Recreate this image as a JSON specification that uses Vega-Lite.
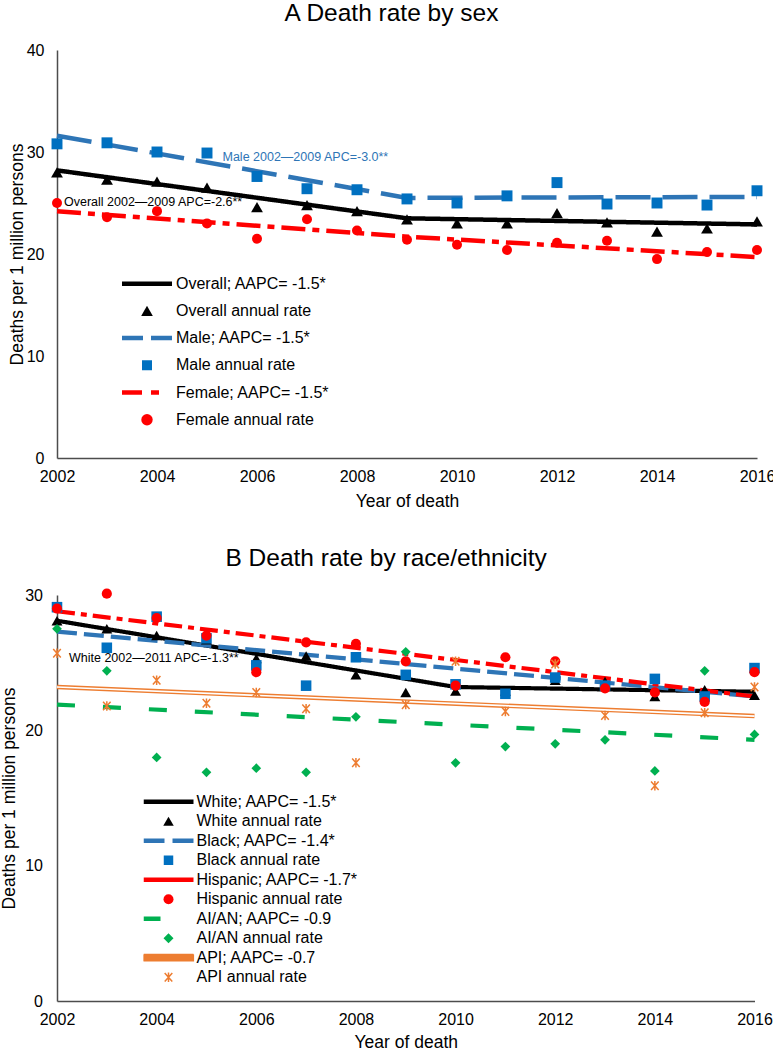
{
  "$schema": "https://vega.github.io/schema/vega-lite/v6.json",
  "background": "white",
  "padding": {"left": 0, "top": 1, "right": 0, "bottom": 0},
  "config": {
    "font": "Liberation Sans",
    "view": {"stroke": null},
    "axis": {"grid": false, "ticks": false, "domainColor": "#4d4d4d", "domainWidth": 1.5, "labelFont": "Liberation Sans", "labelFontSize": 16, "labelColor": "#000000", "titleFont": "Liberation Sans", "titleFontSize": 17.5, "titleFontWeight": "normal", "titleColor": "#000000", "labelOverlap": false},
    "title": {"font": "Liberation Sans", "fontSize": 24.5, "fontWeight": "normal", "color": "#000000", "anchor": "middle", "frame": "bounds", "offset": 15.5},
    "legend": {"labelFont": "Liberation Sans", "labelFontSize": 16, "labelColor": "#000000", "labelLimit": 400, "padding": 0, "symbolOffset": 0, "clipHeight": 18, "symbolSize": 2500}
  },
  "resolve": {
    "scale": {"x": "independent", "y": "independent", "color": "independent", "shape": "independent", "size": "independent", "strokeDash": "independent"},
    "legend": {"color": "independent", "shape": "independent", "size": "independent", "strokeDash": "independent"}
  },
  "datasets": {
    "sex": [
      {"year": 2002, "rate": 28.2, "series": "Overall; AAPC= -1.5*", "kind": "fit"},
      {"year": 2009, "rate": 23.5, "series": "Overall; AAPC= -1.5*", "kind": "fit"},
      {"year": 2016, "rate": 22.9, "series": "Overall; AAPC= -1.5*", "kind": "fit"},
      {"year": 2002, "rate": 31.6, "series": "Male; AAPC= -1.5*", "kind": "fit"},
      {"year": 2009, "rate": 25.5, "series": "Male; AAPC= -1.5*", "kind": "fit"},
      {"year": 2016, "rate": 25.6, "series": "Male; AAPC= -1.5*", "kind": "fit"},
      {"year": 2002, "rate": 24.2, "series": "Female; AAPC= -1.5*", "kind": "fit"},
      {"year": 2009, "rate": 21.7, "series": "Female; AAPC= -1.5*", "kind": "fit"},
      {"year": 2016, "rate": 19.7, "series": "Female; AAPC= -1.5*", "kind": "fit"},
      {"year": 2002, "rate": 28.0, "series": "Overall annual rate", "kind": "annual"},
      {"year": 2003, "rate": 27.3, "series": "Overall annual rate", "kind": "annual"},
      {"year": 2004, "rate": 27.1, "series": "Overall annual rate", "kind": "annual"},
      {"year": 2005, "rate": 26.5, "series": "Overall annual rate", "kind": "annual"},
      {"year": 2006, "rate": 24.6, "series": "Overall annual rate", "kind": "annual"},
      {"year": 2007, "rate": 24.8, "series": "Overall annual rate", "kind": "annual"},
      {"year": 2008, "rate": 24.2, "series": "Overall annual rate", "kind": "annual"},
      {"year": 2009, "rate": 23.4, "series": "Overall annual rate", "kind": "annual"},
      {"year": 2010, "rate": 23.0, "series": "Overall annual rate", "kind": "annual"},
      {"year": 2011, "rate": 23.0, "series": "Overall annual rate", "kind": "annual"},
      {"year": 2012, "rate": 24.0, "series": "Overall annual rate", "kind": "annual"},
      {"year": 2013, "rate": 23.1, "series": "Overall annual rate", "kind": "annual"},
      {"year": 2014, "rate": 22.2, "series": "Overall annual rate", "kind": "annual"},
      {"year": 2015, "rate": 22.5, "series": "Overall annual rate", "kind": "annual"},
      {"year": 2016, "rate": 23.2, "series": "Overall annual rate", "kind": "annual"},
      {"year": 2002, "rate": 30.8, "series": "Male annual rate", "kind": "annual"},
      {"year": 2003, "rate": 30.9, "series": "Male annual rate", "kind": "annual"},
      {"year": 2004, "rate": 30.0, "series": "Male annual rate", "kind": "annual"},
      {"year": 2005, "rate": 29.9, "series": "Male annual rate", "kind": "annual"},
      {"year": 2006, "rate": 27.6, "series": "Male annual rate", "kind": "annual"},
      {"year": 2007, "rate": 26.4, "series": "Male annual rate", "kind": "annual"},
      {"year": 2008, "rate": 26.3, "series": "Male annual rate", "kind": "annual"},
      {"year": 2009, "rate": 25.4, "series": "Male annual rate", "kind": "annual"},
      {"year": 2010, "rate": 25.0, "series": "Male annual rate", "kind": "annual"},
      {"year": 2011, "rate": 25.7, "series": "Male annual rate", "kind": "annual"},
      {"year": 2012, "rate": 27.0, "series": "Male annual rate", "kind": "annual"},
      {"year": 2013, "rate": 24.9, "series": "Male annual rate", "kind": "annual"},
      {"year": 2014, "rate": 25.0, "series": "Male annual rate", "kind": "annual"},
      {"year": 2015, "rate": 24.8, "series": "Male annual rate", "kind": "annual"},
      {"year": 2016, "rate": 26.2, "series": "Male annual rate", "kind": "annual"},
      {"year": 2002, "rate": 25.0, "series": "Female annual rate", "kind": "annual"},
      {"year": 2003, "rate": 23.6, "series": "Female annual rate", "kind": "annual"},
      {"year": 2004, "rate": 24.2, "series": "Female annual rate", "kind": "annual"},
      {"year": 2005, "rate": 23.0, "series": "Female annual rate", "kind": "annual"},
      {"year": 2006, "rate": 21.5, "series": "Female annual rate", "kind": "annual"},
      {"year": 2007, "rate": 23.4, "series": "Female annual rate", "kind": "annual"},
      {"year": 2008, "rate": 22.3, "series": "Female annual rate", "kind": "annual"},
      {"year": 2009, "rate": 21.4, "series": "Female annual rate", "kind": "annual"},
      {"year": 2010, "rate": 20.9, "series": "Female annual rate", "kind": "annual"},
      {"year": 2011, "rate": 20.4, "series": "Female annual rate", "kind": "annual"},
      {"year": 2012, "rate": 21.1, "series": "Female annual rate", "kind": "annual"},
      {"year": 2013, "rate": 21.3, "series": "Female annual rate", "kind": "annual"},
      {"year": 2014, "rate": 19.5, "series": "Female annual rate", "kind": "annual"},
      {"year": 2015, "rate": 20.2, "series": "Female annual rate", "kind": "annual"},
      {"year": 2016, "rate": 20.4, "series": "Female annual rate", "kind": "annual"}
    ],
    "race": [
      {"year": 2002, "rate": 28.1, "series": "White; AAPC= -1.5*", "kind": "fit"},
      {"year": 2010, "rate": 23.2, "series": "White; AAPC= -1.5*", "kind": "fit"},
      {"year": 2016, "rate": 22.85, "series": "White; AAPC= -1.5*", "kind": "fit"},
      {"year": 2002, "rate": 27.3, "series": "Black; AAPC= -1.4*", "kind": "fit"},
      {"year": 2016, "rate": 22.5, "series": "Black; AAPC= -1.4*", "kind": "fit"},
      {"year": 2002, "rate": 28.8, "series": "Hispanic; AAPC= -1.7*", "kind": "fit"},
      {"year": 2016, "rate": 22.5, "series": "Hispanic; AAPC= -1.7*", "kind": "fit"},
      {"year": 2002, "rate": 21.9, "series": "AI/AN; AAPC= -0.9", "kind": "fit"},
      {"year": 2016, "rate": 19.3, "series": "AI/AN; AAPC= -0.9", "kind": "fit"},
      {"year": 2002, "rate": 23.2, "series": "API; AAPC= -0.7", "kind": "api"},
      {"year": 2016, "rate": 21.05, "series": "API; AAPC= -0.7", "kind": "api"},
      {"year": 2002, "rate": 28.1, "series": "White annual rate", "kind": "annual"},
      {"year": 2003, "rate": 27.5, "series": "White annual rate", "kind": "annual"},
      {"year": 2004, "rate": 27.0, "series": "White annual rate", "kind": "annual"},
      {"year": 2005, "rate": 26.7, "series": "White annual rate", "kind": "annual"},
      {"year": 2006, "rate": 25.3, "series": "White annual rate", "kind": "annual"},
      {"year": 2007, "rate": 25.5, "series": "White annual rate", "kind": "annual"},
      {"year": 2008, "rate": 24.1, "series": "White annual rate", "kind": "annual"},
      {"year": 2009, "rate": 22.8, "series": "White annual rate", "kind": "annual"},
      {"year": 2010, "rate": 22.9, "series": "White annual rate", "kind": "annual"},
      {"year": 2011, "rate": 22.9, "series": "White annual rate", "kind": "annual"},
      {"year": 2012, "rate": 23.7, "series": "White annual rate", "kind": "annual"},
      {"year": 2013, "rate": 23.6, "series": "White annual rate", "kind": "annual"},
      {"year": 2014, "rate": 22.5, "series": "White annual rate", "kind": "annual"},
      {"year": 2015, "rate": 23.0, "series": "White annual rate", "kind": "annual"},
      {"year": 2016, "rate": 22.6, "series": "White annual rate", "kind": "annual"},
      {"year": 2002, "rate": 29.1, "series": "Black annual rate", "kind": "annual"},
      {"year": 2003, "rate": 26.1, "series": "Black annual rate", "kind": "annual"},
      {"year": 2004, "rate": 28.4, "series": "Black annual rate", "kind": "annual"},
      {"year": 2005, "rate": 26.8, "series": "Black annual rate", "kind": "annual"},
      {"year": 2006, "rate": 24.8, "series": "Black annual rate", "kind": "annual"},
      {"year": 2007, "rate": 23.3, "series": "Black annual rate", "kind": "annual"},
      {"year": 2008, "rate": 25.4, "series": "Black annual rate", "kind": "annual"},
      {"year": 2009, "rate": 24.1, "series": "Black annual rate", "kind": "annual"},
      {"year": 2010, "rate": 23.4, "series": "Black annual rate", "kind": "annual"},
      {"year": 2011, "rate": 22.7, "series": "Black annual rate", "kind": "annual"},
      {"year": 2012, "rate": 23.9, "series": "Black annual rate", "kind": "annual"},
      {"year": 2013, "rate": 23.3, "series": "Black annual rate", "kind": "annual"},
      {"year": 2014, "rate": 23.8, "series": "Black annual rate", "kind": "annual"},
      {"year": 2015, "rate": 22.5, "series": "Black annual rate", "kind": "annual"},
      {"year": 2016, "rate": 24.6, "series": "Black annual rate", "kind": "annual"},
      {"year": 2002, "rate": 29.0, "series": "Hispanic annual rate", "kind": "annual"},
      {"year": 2003, "rate": 30.1, "series": "Hispanic annual rate", "kind": "annual"},
      {"year": 2004, "rate": 28.3, "series": "Hispanic annual rate", "kind": "annual"},
      {"year": 2005, "rate": 27.0, "series": "Hispanic annual rate", "kind": "annual"},
      {"year": 2006, "rate": 24.3, "series": "Hispanic annual rate", "kind": "annual"},
      {"year": 2007, "rate": 26.5, "series": "Hispanic annual rate", "kind": "annual"},
      {"year": 2008, "rate": 26.4, "series": "Hispanic annual rate", "kind": "annual"},
      {"year": 2009, "rate": 25.1, "series": "Hispanic annual rate", "kind": "annual"},
      {"year": 2010, "rate": 23.3, "series": "Hispanic annual rate", "kind": "annual"},
      {"year": 2011, "rate": 25.4, "series": "Hispanic annual rate", "kind": "annual"},
      {"year": 2012, "rate": 25.1, "series": "Hispanic annual rate", "kind": "annual"},
      {"year": 2013, "rate": 23.1, "series": "Hispanic annual rate", "kind": "annual"},
      {"year": 2014, "rate": 22.8, "series": "Hispanic annual rate", "kind": "annual"},
      {"year": 2015, "rate": 22.1, "series": "Hispanic annual rate", "kind": "annual"},
      {"year": 2016, "rate": 24.3, "series": "Hispanic annual rate", "kind": "annual"},
      {"year": 2002, "rate": 27.5, "series": "AI/AN annual rate", "kind": "annual"},
      {"year": 2003, "rate": 24.4, "series": "AI/AN annual rate", "kind": "annual"},
      {"year": 2004, "rate": 18.0, "series": "AI/AN annual rate", "kind": "annual"},
      {"year": 2005, "rate": 16.9, "series": "AI/AN annual rate", "kind": "annual"},
      {"year": 2006, "rate": 17.2, "series": "AI/AN annual rate", "kind": "annual"},
      {"year": 2007, "rate": 16.9, "series": "AI/AN annual rate", "kind": "annual"},
      {"year": 2008, "rate": 21.0, "series": "AI/AN annual rate", "kind": "annual"},
      {"year": 2009, "rate": 25.8, "series": "AI/AN annual rate", "kind": "annual"},
      {"year": 2010, "rate": 17.6, "series": "AI/AN annual rate", "kind": "annual"},
      {"year": 2011, "rate": 18.8, "series": "AI/AN annual rate", "kind": "annual"},
      {"year": 2012, "rate": 19.0, "series": "AI/AN annual rate", "kind": "annual"},
      {"year": 2013, "rate": 19.3, "series": "AI/AN annual rate", "kind": "annual"},
      {"year": 2014, "rate": 17.0, "series": "AI/AN annual rate", "kind": "annual"},
      {"year": 2015, "rate": 24.4, "series": "AI/AN annual rate", "kind": "annual"},
      {"year": 2016, "rate": 19.7, "series": "AI/AN annual rate", "kind": "annual"},
      {"year": 2002, "rate": 25.7, "series": "API annual rate", "kind": "star"},
      {"year": 2003, "rate": 21.8, "series": "API annual rate", "kind": "star"},
      {"year": 2004, "rate": 23.7, "series": "API annual rate", "kind": "star"},
      {"year": 2005, "rate": 22.0, "series": "API annual rate", "kind": "star"},
      {"year": 2006, "rate": 22.8, "series": "API annual rate", "kind": "star"},
      {"year": 2007, "rate": 21.6, "series": "API annual rate", "kind": "star"},
      {"year": 2008, "rate": 17.6, "series": "API annual rate", "kind": "star"},
      {"year": 2009, "rate": 21.9, "series": "API annual rate", "kind": "star"},
      {"year": 2010, "rate": 25.1, "series": "API annual rate", "kind": "star"},
      {"year": 2011, "rate": 21.4, "series": "API annual rate", "kind": "star"},
      {"year": 2012, "rate": 24.9, "series": "API annual rate", "kind": "star"},
      {"year": 2013, "rate": 21.1, "series": "API annual rate", "kind": "star"},
      {"year": 2014, "rate": 15.9, "series": "API annual rate", "kind": "star"},
      {"year": 2015, "rate": 21.3, "series": "API annual rate", "kind": "star"},
      {"year": 2016, "rate": 23.2, "series": "API annual rate", "kind": "star"}
    ],
    "notes": [
      {"panel": "A", "who": "male", "year": 2005.31, "rate": 29.55, "label": "Male 2002—2009 APC=-3.0**"},
      {"panel": "A", "who": "overall", "year": 2002.14, "rate": 25.07, "label": "Overall 2002—2009 APC=-2.6**"},
      {"panel": "B", "who": "white", "year": 2002.24, "rate": 25.37, "label": "White 2002—2011 APC=-1.3**"}
    ]
  },
  "concat": [
    {
      "title": {"text": "A Death rate by sex"},
      "width": 700,
      "height": 408,
      "layer": [
        {
          "data": {"name": "sex"},
          "transform": [{"filter": "datum.kind === 'fit'"}],
          "mark": {"type": "line", "strokeWidth": 4.5, "strokeCap": "butt"},
          "encoding": {
            "x": {"field": "year", "type": "quantitative", "scale": {"domain": [2002, 2016], "nice": false, "zero": false},
                  "axis": {"title": "Year of death", "values": [2002, 2004, 2006, 2008, 2010, 2012, 2014, 2016], "format": "d", "labelFlush": false, "labelPadding": 10, "titlePadding": 8}},
            "y": {"field": "rate", "type": "quantitative", "scale": {"domain": [0, 40], "nice": false},
                  "axis": {"title": "Deaths per 1 million persons", "values": [0, 10, 20, 30, 40], "labelPadding": 13, "titlePadding": 0}},
            "color": {"field": "series", "type": "nominal",
              "scale": {"domain": ["Overall; AAPC= -1.5*", "Overall annual rate", "Male; AAPC= -1.5*", "Male annual rate", "Female; AAPC= -1.5*", "Female annual rate"],
                        "range": ["#000000", "#000000", "#2e75b6", "#0070c0", "#ff0000", "#ff0000"]},
              "legend": {
                "title": null, "orient": "none", "legendX": 65, "legendY": 224.7, "rowPadding": 9.2, "labelOffset": 0,
                "encode": {
                  "symbols": {"update": {
                    "x": {"value": 25},
                    "shape": {"signal": "['stroke','triangle-up','stroke','square','stroke','circle'][indexof(['Overall; AAPC= -1.5*','Overall annual rate','Male; AAPC= -1.5*','Male annual rate','Female; AAPC= -1.5*','Female annual rate'], datum.value)]"},
                    "size": {"signal": "[2500,135,2500,100,2500,130][indexof(['Overall; AAPC= -1.5*','Overall annual rate','Male; AAPC= -1.5*','Male annual rate','Female; AAPC= -1.5*','Female annual rate'], datum.value)]"},
                    "fill": {"signal": "['transparent','#000000','transparent','#0070c0','transparent','#ff0000'][indexof(['Overall; AAPC= -1.5*','Overall annual rate','Male; AAPC= -1.5*','Male annual rate','Female; AAPC= -1.5*','Female annual rate'], datum.value)]"},
                    "stroke": {"signal": "['#000000','transparent','#2e75b6','transparent','#ff0000','transparent'][indexof(['Overall; AAPC= -1.5*','Overall annual rate','Male; AAPC= -1.5*','Male annual rate','Female; AAPC= -1.5*','Female annual rate'], datum.value)]"},
                    "strokeWidth": {"signal": "[4.5,0,4.5,0,4.5,0][indexof(['Overall; AAPC= -1.5*','Overall annual rate','Male; AAPC= -1.5*','Male annual rate','Female; AAPC= -1.5*','Female annual rate'], datum.value)]"},
                    "strokeDash": {"signal": "[[1,0],[1,0],[21,8],[1,0],[20,9,8,20],[1,0]][indexof(['Overall; AAPC= -1.5*','Overall annual rate','Male; AAPC= -1.5*','Male annual rate','Female; AAPC= -1.5*','Female annual rate'], datum.value)]"},
                    "opacity": {"value": 1}
                  }},
                  "labels": {"update": {"x": {"value": 54}}}
                }
              }},
            "strokeDash": {"field": "series", "type": "nominal", "legend": null,
              "scale": {"domain": ["Overall; AAPC= -1.5*", "Male; AAPC= -1.5*", "Female; AAPC= -1.5*"], "range": [[1, 0], [35, 12], [24, 7, 7, 7]]}}
          }
        },
        {
          "data": {"name": "sex"},
          "transform": [{"filter": "datum.kind === 'annual'"}],
          "mark": {"type": "point", "filled": true, "opacity": 1, "strokeWidth": 0},
          "encoding": {
            "x": {"field": "year", "type": "quantitative"},
            "y": {"field": "rate", "type": "quantitative"},
            "color": {"field": "series", "type": "nominal"},
            "shape": {"field": "series", "type": "nominal", "legend": null,
              "scale": {"domain": ["Overall annual rate", "Male annual rate", "Female annual rate"], "range": ["triangle-up", "square", "circle"]}},
            "size": {"field": "series", "type": "nominal", "legend": null,
              "scale": {"domain": ["Overall annual rate", "Male annual rate", "Female annual rate"], "range": [140, 100, 130]}}
          }
        },
        {
          "data": {"name": "notes"},
          "transform": [{"filter": "datum.who === 'male'"}],
          "mark": {"type": "text", "align": "left", "baseline": "middle", "fontSize": 12.5, "font": "Liberation Sans", "color": "#2e75b6"},
          "encoding": {
            "x": {"field": "year", "type": "quantitative"},
            "y": {"field": "rate", "type": "quantitative"},
            "text": {"field": "label"}
          }
        },
        {
          "data": {"name": "notes"},
          "transform": [{"filter": "datum.who === 'overall'"}],
          "mark": {"type": "text", "align": "left", "baseline": "middle", "fontSize": 12.5, "font": "Liberation Sans", "color": "#000000"},
          "encoding": {
            "x": {"field": "year", "type": "quantitative"},
            "y": {"field": "rate", "type": "quantitative"},
            "text": {"field": "label"}
          }
        }
      ]
    },
    {
      "title": {"text": "B Death rate by race/ethnicity"},
      "width": 697.5,
      "height": 406,
      "layer": [
        {
          "data": {"name": "race"},
          "transform": [{"filter": "datum.kind === 'fit'"}],
          "mark": {"type": "line", "strokeWidth": 4.2, "strokeCap": "butt"},
          "encoding": {
            "x": {"field": "year", "type": "quantitative", "scale": {"domain": [2002, 2016], "nice": false, "zero": false},
                  "axis": {"title": "Year of death", "values": [2002, 2004, 2006, 2008, 2010, 2012, 2014, 2016], "format": "d", "labelFlush": false, "labelPadding": 10, "titlePadding": 6.5}},
            "y": {"field": "rate", "type": "quantitative", "scale": {"domain": [0, 30], "nice": false},
                  "axis": {"title": "Deaths per 1 million persons", "values": [0, 10, 20, 30], "labelPadding": 14.5, "titlePadding": 6.7}},
            "color": {"field": "series", "type": "nominal",
              "scale": {"domain": ["White; AAPC= -1.5*", "White annual rate", "Black; AAPC= -1.4*", "Black annual rate", "Hispanic; AAPC= -1.7*", "Hispanic annual rate", "AI/AN; AAPC= -0.9", "AI/AN annual rate", "API; AAPC= -0.7", "API annual rate"],
                        "range": ["#000000", "#000000", "#2e75b6", "#0070c0", "#ff0000", "#ff0000", "#00b050", "#00b050", "#ed7d31", "#ed7d31"]},
              "legend": {
                "title": null, "orient": "none", "legendX": 86.5, "legendY": 197.7, "rowPadding": 1.5, "labelOffset": 0,
                "encode": {
                  "symbols": {"update": {
                    "x": {"value": 25},
                    "shape": {"signal": "['stroke','triangle-up','stroke','square','stroke','circle','stroke','diamond','M-1,-0.13H1V0.13H-1Z','M-0.8,-0.9L0.8,0.9M0.8,-0.9L-0.8,0.9M0,-1V1'][indexof(['White; AAPC= -1.5*','White annual rate','Black; AAPC= -1.4*','Black annual rate','Hispanic; AAPC= -1.7*','Hispanic annual rate','AI/AN; AAPC= -0.9','AI/AN annual rate','API; AAPC= -0.7','API annual rate'], datum.value)]"},
                    "size": {"signal": "[2500,110,2500,90,2500,100,2500,100,2500,90][indexof(['White; AAPC= -1.5*','White annual rate','Black; AAPC= -1.4*','Black annual rate','Hispanic; AAPC= -1.7*','Hispanic annual rate','AI/AN; AAPC= -0.9','AI/AN annual rate','API; AAPC= -0.7','API annual rate'], datum.value)]"},
                    "fill": {"signal": "['transparent','#000000','transparent','#0070c0','transparent','#ff0000','transparent','#00b050','#ffffff','transparent'][indexof(['White; AAPC= -1.5*','White annual rate','Black; AAPC= -1.4*','Black annual rate','Hispanic; AAPC= -1.7*','Hispanic annual rate','AI/AN; AAPC= -0.9','AI/AN annual rate','API; AAPC= -0.7','API annual rate'], datum.value)]"},
                    "stroke": {"signal": "['#000000','transparent','#2e75b6','transparent','#ff0000','transparent','#00b050','transparent','#ed7d31','#ed7d31'][indexof(['White; AAPC= -1.5*','White annual rate','Black; AAPC= -1.4*','Black annual rate','Hispanic; AAPC= -1.7*','Hispanic annual rate','AI/AN; AAPC= -0.9','AI/AN annual rate','API; AAPC= -0.7','API annual rate'], datum.value)]"},
                    "strokeWidth": {"signal": "[4.5,0,4.5,0,4.5,0,4.5,0,1.2,1.5][indexof(['White; AAPC= -1.5*','White annual rate','Black; AAPC= -1.4*','Black annual rate','Hispanic; AAPC= -1.7*','Hispanic annual rate','AI/AN; AAPC= -0.9','AI/AN annual rate','API; AAPC= -0.7','API annual rate'], datum.value)]"},
                    "strokeDash": {"signal": "[[1,0],[1,0],[21,8],[1,0],[1,0],[1,0],[17,40],[1,0],[1,0],[1,0]][indexof(['White; AAPC= -1.5*','White annual rate','Black; AAPC= -1.4*','Black annual rate','Hispanic; AAPC= -1.7*','Hispanic annual rate','AI/AN; AAPC= -0.9','AI/AN annual rate','API; AAPC= -0.7','API annual rate'], datum.value)]"},
                    "opacity": {"value": 1}
                  }},
                  "labels": {"update": {"x": {"value": 53}}}
                }
              }},
            "strokeDash": {"field": "series", "type": "nominal", "legend": null,
              "scale": {"domain": ["White; AAPC= -1.5*", "Black; AAPC= -1.4*", "Hispanic; AAPC= -1.7*", "AI/AN; AAPC= -0.9"], "range": [[1, 0], [20, 7], [18, 6, 6, 6], [18, 28]]}}
          }
        },
        {
          "data": {"name": "race"},
          "transform": [{"filter": "datum.kind === 'api'"}],
          "mark": {"type": "line", "strokeWidth": 4.5, "strokeCap": "butt"},
          "encoding": {
            "x": {"field": "year", "type": "quantitative"},
            "y": {"field": "rate", "type": "quantitative"},
            "color": {"field": "series", "type": "nominal"}
          }
        },
        {
          "data": {"name": "race"},
          "transform": [{"filter": "datum.kind === 'api'"}],
          "mark": {"type": "line", "strokeWidth": 1.6, "strokeCap": "butt", "color": "#ffffff"},
          "encoding": {
            "x": {"field": "year", "type": "quantitative"},
            "y": {"field": "rate", "type": "quantitative"}
          }
        },
        {
          "data": {"name": "race"},
          "transform": [{"filter": "datum.kind === 'annual'"}],
          "mark": {"type": "point", "filled": true, "opacity": 1, "strokeWidth": 0},
          "encoding": {
            "x": {"field": "year", "type": "quantitative"},
            "y": {"field": "rate", "type": "quantitative"},
            "color": {"field": "series", "type": "nominal"},
            "shape": {"field": "series", "type": "nominal", "legend": null,
              "scale": {"domain": ["White annual rate", "Black annual rate", "Hispanic annual rate", "AI/AN annual rate"], "range": ["triangle-up", "square", "circle", "diamond"]}},
            "size": {"field": "series", "type": "nominal", "legend": null,
              "scale": {"domain": ["White annual rate", "Black annual rate", "Hispanic annual rate", "AI/AN annual rate"], "range": [120, 95, 110, 100]}}
          }
        },
        {
          "data": {"name": "race"},
          "transform": [{"filter": "datum.kind === 'star'"}],
          "mark": {"type": "point", "filled": false, "opacity": 1, "strokeWidth": 1.5, "size": 90, "shape": "M-0.8,-0.9L0.8,0.9M0.8,-0.9L-0.8,0.9M0,-1V1"},
          "encoding": {
            "x": {"field": "year", "type": "quantitative"},
            "y": {"field": "rate", "type": "quantitative"},
            "color": {"field": "series", "type": "nominal"}
          }
        },
        {
          "data": {"name": "notes"},
          "transform": [{"filter": "datum.who === 'white'"}],
          "mark": {"type": "text", "align": "left", "baseline": "middle", "fontSize": 12.5, "font": "Liberation Sans", "color": "#000000"},
          "encoding": {
            "x": {"field": "year", "type": "quantitative"},
            "y": {"field": "rate", "type": "quantitative"},
            "text": {"field": "label"}
          }
        }
      ]
    }
  ],
  "columns": 1,
  "align": "none",
  "spacing": 36
}
